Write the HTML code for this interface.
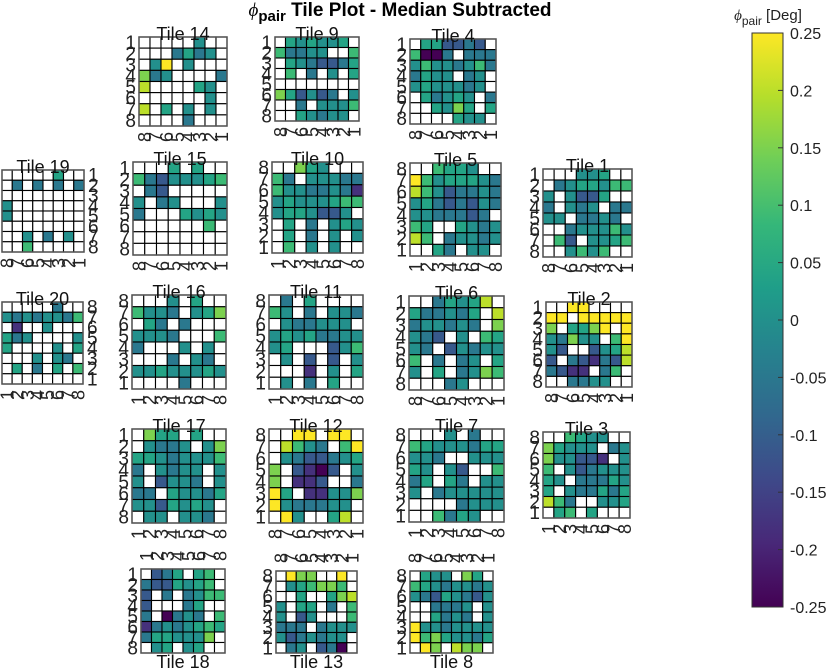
<!DOCTYPE html>
<html><head><meta charset="utf-8"><style>
html,body{margin:0;padding:0;background:#fff;width:830px;height:671px;overflow:hidden}
svg{display:block;font-family:"Liberation Sans",sans-serif}
</style></head><body>
<svg id="chart" width="830" height="671" viewBox="0 0 830 671">
<text x="400" y="16" text-anchor="middle" font-size="19" font-weight="bold"><tspan font-style="italic" font-weight="normal" font-family="Liberation Serif,serif">ϕ</tspan><tspan font-size="15" dy="5">pair</tspan><tspan dy="-5"> Tile Plot - Median Subtracted</tspan></text>
<g id="tiles"></g>
<g id="cbar"></g>
</svg>
<script>
// value codes: '.' = no data
const levelCodes = ['a','b','c','d','e','f','g','h','x','i'];
const levelValues = [-0.25,-0.18,-0.11,-0.05,0,0.04,0.09,0.15,0.2,0.25];
const tile14 = ['.....e..','...dfde.','.ei.e...','hde....d','x....fe.','......e.','x.f.e.e.','....d...'];
const tile9  = ['.fefeef.','gddee..g','.fedccdf','.g.d.e.f','........','hfcecd.e','..d.eeeg','..fedee.'];
const tile4  = ['.ffccdc.','gaad.ddd','egeedegd','dfee.de.','efeeede.','.fdefe.d','..fehf.f','....fee.'];
const tile19 = ['.....f..','.d.d.d.d','........','e.......','e.......','........','..e.d.e.','..g.....'];
const tile15 = ['...f.f..','gdceeefg','.dc.....','e.de...e','d...fefe','......g.','........','........'];
const tile10 = ['..hfe...','gd.eeedd','geeddedb','efeeefgg','effecce.','.f.d.efe','.f.d.e.e','.g.e.e..'];
const tile5  = ['..gffe..','igefffed','xgecdded','efdcdced','eedddcd.','gf..fede','xg.deede','..fd.ee.'];
const tile1  = ['...eef..','.deffegg','e.eccf..','d.ede.dd','ee.dded.','..deeege','.gc.eefg','..egeg..'];
const tile20 = ['.....d..','ededeedg','.b..e...','fde....e','f....e.f','...e.ed.','.f.d.f.g','........'];
const tile16 = ['...e.f..','geed.efh','.fd.d...','eeed...g','d...e.e.','...d.ed.','eefeeefe','....d...'];
const tile11 = ['.d.f....','ge.d.eed','.eddeee.','efefddee','ef...ceg','.e.c.c.e','...b.e.f','.e.d.f..'];
const tile6  = ['..dfefx.','fddedf.x','deeded.h','edc.e.gf','ed.cedee','g.d.de.f','e.f.dehg','...de...'];
const tile2  = ['..ii....','ii.iiiii','h.ffhi.i','edhee.gi','ec..cefx','c.dcbdcx','dcbb.dg.','..ddee..'];
const tile17 = ['.hff.f..','.edde.eh','ffedeeeg','d.edee.e','e.ceed.e','dd.feedf','eecfefe.','.ee.eed.'];
const tile12 = ['..ii.ii.','.xged.gi','.edccdef','h.cbac.e','h.bbc..d','if.bbeeh','iedddee.','.ie..fx.'];
const tile7  = ['...e.d..','gfeeedff','eed..eee','fe.ec..g','df.fd.ee','e.deeeee','....deee','..gdfe..'];
const tile3  = ['..gfee..','hfeee.de','heeccb.e','g.ecdeee','fe.dddfe','f.eddfdf','xgd..eef','.fg.f...'];
const tile18 = ['.cdf.fg.','dccfefg.','c.d.degg','c...df..','d.aded.g','bdedefgf','dffeeeh.','.ef.ef..'];
const tile13 = ['.ihh..i.','.efghhg.','..f..fhx','e.ff.d.g','e.ce...g','ddd.deee','ecdedee.','.de.cda.'];
const tile8  = ['.fee.hf.','gfedeede','edcfedce','..ddde.e','..fded.e','ieedeeee','ighfeedf','.ih.xhh.'];
const cbarTicks = [0.25,0.2,0.15,0.1,0.05,0,-0.05,-0.1,-0.15,-0.2,-0.25];
const cbarTickLabels = ['0.25','0.2','0.15','0.1','0.05','0','-0.05','-0.1','-0.15','-0.2','-0.25'];

// layout: [label, data, x0,y0,x1,y1, yAsc, ySide, xAsc, xSide, titleSide]
const layout = [
 ['Tile 14',tile14,139,37,227,126,true,'L',false,'B','T'],
 ['Tile 9',tile9,275,37,359,121,true,'L',false,'B','T'],
 ['Tile 4',tile4,410,39,496,124,true,'L',false,'B','T'],
 ['Tile 19',tile19,2,170,84,252,true,'R',false,'B','T'],
 ['Tile 15',tile15,133,162,227,255,true,'L',false,'B','T'],
 ['Tile 10',tile10,272,162,363,253,false,'L',true,'B','T'],
 ['Tile 5',tile5,410,163,501,256,false,'L',true,'B','T'],
 ['Tile 1',tile1,543,169,632,257,true,'L',false,'B','T'],
 ['Tile 20',tile20,2,302,83,384,false,'R',true,'B','T'],
 ['Tile 16',tile16,132,295,226,389,false,'L',true,'B','T'],
 ['Tile 11',tile11,269,295,363,389,false,'L',true,'B','T'],
 ['Tile 6',tile6,409,296,504,390,true,'L',false,'B','T'],
 ['Tile 2',tile2,546,302,632,387,true,'L',false,'B','T'],
 ['Tile 17',tile17,132,429,226,523,true,'L',true,'B','T'],
 ['Tile 12',tile12,269,429,363,523,false,'L',false,'B','T'],
 ['Tile 7',tile7,409,429,504,522,false,'L',true,'B','T'],
 ['Tile 3',tile3,543,432,630,518,false,'L',true,'B','T'],
 ['Tile 18',tile18,141,569,225,653,true,'L',true,'T','B'],
 ['Tile 13',tile13,276,571,357,653,false,'L',false,'T','B'],
 ['Tile 8',tile8,410,571,493,653,false,'L',false,'T','B']
];

const vStops=['#440154','#482878','#3e4989','#31688e','#26828e','#1f9e89','#35b779','#6ece58','#b5de2b','#fde725'];
function hex(h){return [1,3,5].map(i=>parseInt(h.substr(i,2),16));}
function viridis(v){let t=(v+0.25)/0.5;t=Math.max(0,Math.min(1,t));const p=t*(vStops.length-1);const i=Math.min(Math.floor(p),vStops.length-2);const f=p-i;const a=hex(vStops[i]),b=hex(vStops[i+1]);return 'rgb('+a.map((c,k)=>Math.round(c+(b[k]-c)*f)).join(',')+')';}
const NS='http://www.w3.org/2000/svg';
function mk(tag,attrs,parent){const e=document.createElementNS(NS,tag);for(const k in attrs)e.setAttribute(k,attrs[k]);parent.appendChild(e);return e;}
const tilesG=document.getElementById('tiles');
layout.forEach(L=>{
 const [label,data,x0,y0,x1,y1,yAsc,ySide,xAsc,xSide,tSide]=L;
 const g=mk('g',{},tilesG);
 
 
 const cw=(x1-x0)/8,ch=(y1-y0)/8;
 data.forEach((row,r)=>{for(let c=0;c<8;c++){const code=row[c];let fill='#fff';if(code!=='.'){fill=viridis(levelValues[levelCodes.indexOf(code)]);}
  const rc=mk('rect',{x:x0+c*cw,y:y0+r*ch,width:cw,height:ch,fill:fill,stroke:'#000','stroke-width':1.1},g);
  
  }});
 const bx=mk('rect',{x:x0,y:y0,width:x1-x0,height:y1-y0,fill:'none',stroke:'#555','stroke-width':1.5},g);
 
 
 for(let r=0;r<8;r++){const lab=yAsc?r+1:8-r;const ty=y0+(r+0.5)*ch+6.5;
  const t=mk('text',{x:ySide==='L'?x0-3:x1+4,y:ty,'font-size':19,'text-anchor':ySide==='L'?'end':'start',fill:'#222'},g);t.textContent=lab;
  
  }
 const xc=xSide==='B'?y1+11:y0-13;
 for(let c=0;c<8;c++){const lab=xAsc?c+1:8-c;const cx=x0+(c+0.5)*cw;
  const t=mk('text',{x:cx,y:xc+6.5,'font-size':18,'text-anchor':'middle',fill:'#222',transform:'rotate(-90 '+cx+' '+xc+')'},g);t.textContent=lab;
  
  }
 const tt=mk('text',{x:(x0+x1)/2,y:tSide==='T'?y0+3:y1+15,'font-size':18,'text-anchor':'middle',fill:'#111'},g);tt.textContent=label;
 
 
});
// colorbar
const cb=document.getElementById('cbar');
const cbX=752,cbW=31,cbTop=33,cbBot=607;
const defs=mk('defs',{},cb);const lg=mk('linearGradient',{id:'vg',x1:0,y1:1,x2:0,y2:0},defs);
vStops.forEach((s,i)=>mk('stop',{offset:i/(vStops.length-1),'stop-color':s},lg));
const cr=mk('rect',{x:cbX,y:cbTop,width:cbW,height:cbBot-cbTop,fill:'url(#vg)',stroke:'#333','stroke-width':1},cb);


function cy(v){return cbTop+(0.25-v)/0.5*(cbBot-cbTop);}
cbarTicks.forEach((v,i)=>{const y=cy(v);
 mk('line',{x1:cbX+cbW-5,x2:cbX+cbW,y1:y,y2:y,stroke:'#333'},cb);
 const t=mk('text',{x:cbX+cbW+7,y:y+6,'font-size':16,fill:'#222'},cb);t.textContent=cbarTickLabels[i];
 
 });
const ct=mk('text',{x:768,y:20,'font-size':15,'text-anchor':'middle',fill:'#222'},cb);
ct.innerHTML='<tspan font-style="italic" font-family="Liberation Serif,serif">ϕ</tspan><tspan font-size="12" dy="5">pair</tspan><tspan dy="-5"> [Deg]</tspan>';


</script>
</body></html>
